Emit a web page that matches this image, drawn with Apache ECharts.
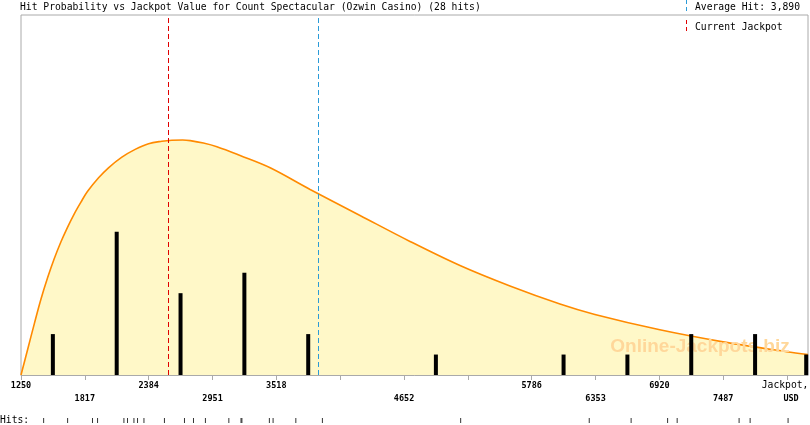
<!DOCTYPE html>
<html>
<head>
<meta charset="utf-8">
<title>Hit Probability vs Jackpot Value</title>
<script src="https://cdn.jsdelivr.net/npm/echarts@6/dist/echarts.min.js"></script>
<style>
  html, body { margin: 0; padding: 0; background: #fff; }
  #chart { width: 810px; height: 425px; }
</style>
</head>
<body>
<div id="chart"></div>
<script>
// probability curve (x = jackpot USD, y = in "hits" units)
const curveX = [1250, 1309, 1368, 1427, 1486, 1545, 1604, 1663, 1722, 1781, 1840, 1939, 2027,
    2146, 2264, 2383, 2501, 2590, 2686, 2753, 2870, 2990, 3196, 3463, 3818, 4261, 4705, 5149, 5593,
    6037, 6347, 6924, 7486, 8049, 8240];
const curveY = [0, 1.25, 2.50, 3.70, 4.75, 5.68, 6.50, 7.22, 7.87, 8.44, 8.97, 9.64, 10.13,
    10.65, 11.03, 11.31, 11.43, 11.48, 11.49, 11.46, 11.34, 11.16, 10.73, 10.13, 9.07, 7.80, 6.53, 5.35, 4.35,
    3.47, 2.96, 2.21, 1.62, 1.14, 1.00];

// histogram bars (bin position, hits in bin)
const binX = [1533, 2100, 2667, 3234, 3801, 4935, 6069, 6636, 7203, 7770, 8224];
const binHits = [2, 7, 4, 5, 2, 1, 1, 1, 2, 2, 1];

// single hits shown in the bottom strip
const hitValues = [1451, 1664, 1885, 1930, 2164, 2196, 2253, 2285, 2342, 2524, 2702, 2782,
    2888, 3096, 3204, 3212, 3456, 3489, 3691, 3927, 5155, 6297, 6669, 6993, 7078, 7628, 7726, 8063];

const tickValues = [1250, 1817, 2384, 2951, 3518, 4085, 4652, 5219, 5786, 6353, 6920, 7487, 8054];
const tickLabels = ['1250', '\n1817', '2384', '\n2951', '3518', '', '\n4652', '', '5786',
    '\n6353', '6920', '\n7487', '{j|Jackpot,}\n{u|USD}'];

const averageHit = 3890;
const currentJackpot = 2560;
const xMin = 1250, xMax = 8240;

const mono = '"DejaVu Sans Mono", "Liberation Mono", monospace';

var myChart = echarts.init(document.getElementById('chart'));

var option = {
    animation: false,
    title: {
        text: 'Hit Probability vs Jackpot Value for Count Spectacular (Ozwin Casino) (' + hitValues.length + ' hits)',
        left: 20,
        top: 2,
        padding: 0,
        textStyle: { fontFamily: mono, fontSize: 9.7, fontWeight: 'normal', color: '#000' }
    },
    grid: [
        { left: 21, right: 2, top: 15, bottom: 50, outerBoundsMode: 'none', show: true, borderColor: '#aaa', borderWidth: 1, backgroundColor: 'transparent' },
        { left: 21, right: 2, top: 418, height: 5, outerBoundsMode: 'none' }
    ],
    xAxis: [{
        type: 'value',
        gridIndex: 0,
        min: xMin,
        max: xMax,
        splitLine: { show: false },
        axisLine: { lineStyle: { color: '#aaa' } },
        axisTick: { show: true, length: 5, lineStyle: { color: '#aaa' }, customValues: tickValues },
        axisLabel: {
            customValues: tickValues,
            margin: 4.5,
            fontFamily: mono,
            fontSize: 8.5,
            fontWeight: 'bold',
            color: '#000',
            lineHeight: 12.7,
            formatter: function (v) {
                var i = tickValues.indexOf(v);
                return i < 0 ? '' : tickLabels[i];
            },
            rich: {
                j: { fontFamily: mono, fontSize: 9.7, fontWeight: 'normal', color: '#000', lineHeight: 12.7, padding: [0, 4, 0, 0] },
                u: { fontFamily: mono, fontSize: 8.5, fontWeight: 'bold', color: '#000', lineHeight: 12.7, padding: [0, 0, 0, 8] }
            }
        }
    }, {
        type: 'value',
        gridIndex: 1,
        min: xMin,
        max: xMax,
        show: false
    }],
    yAxis: [
        { type: 'value', gridIndex: 0, min: 0, max: 17.6, show: false },
        { type: 'value', gridIndex: 1, min: 0, max: 1, show: false }
    ],
    graphic: [
        {
            type: 'text', z: 2,
            x: 700, y: 347,
            style: {
                text: 'Online-Jackpots.biz', fill: '#ffd79a',
                font: 'bold 19px "Liberation Sans", Arial, sans-serif',
                textAlign: 'center', textVerticalAlign: 'middle'
            }
        },
        {
            type: 'line', z: 5,
            shape: { x1: 686.5, y1: 0, x2: 686.5, y2: 12 },
            style: { stroke: '#2b9bd8', lineWidth: 1, lineDash: [4, 3] }
        },
        {
            type: 'text', z: 5, x: 695, y: 7,
            style: {
                text: 'Average Hit: ' + averageHit.toLocaleString('en-US'),
                font: '9.7px ' + mono, fill: '#000', textVerticalAlign: 'middle'
            }
        },
        {
            type: 'line', z: 5,
            shape: { x1: 686.5, y1: 20, x2: 686.5, y2: 33 },
            style: { stroke: '#e00000', lineWidth: 1, lineDash: [4, 3] }
        },
        {
            type: 'text', z: 5, x: 695, y: 27,
            style: {
                text: 'Current Jackpot',
                font: '9.7px ' + mono, fill: '#000', textVerticalAlign: 'middle'
            }
        },
        {
            type: 'text', z: 5, x: 0, y: 420,
            style: { text: 'Hits:', font: '9.7px ' + mono, fill: '#000', textVerticalAlign: 'middle' }
        }
    ],
    series: [{
        name: 'Probability',
        type: 'line',
        z: 1,
        xAxisIndex: 0,
        yAxisIndex: 0,
        smooth: 0.35,
        showSymbol: false,
        lineStyle: { color: '#ff8a00', width: 1.6 },
        areaStyle: { color: '#fff8c8', opacity: 1 },
        data: curveX.map((x, i) => [x, curveY[i]])
    }, {
        name: 'Hits per bin',
        type: 'bar',
        z: 3,
        xAxisIndex: 0,
        yAxisIndex: 0,
        barWidth: 4,
        itemStyle: { color: '#000' },
        data: binX.map((x, i) => [x, binHits[i]]),
        markLine: {
            silent: true,
            symbol: 'none',
            label: { show: false },
            animation: false,
            data: [
                { xAxis: currentJackpot, lineStyle: { color: '#e00000', type: [5, 3], width: 1 } },
                { xAxis: averageHit, lineStyle: { color: '#2b9bd8', type: [5, 3], width: 1 } }
            ]
        }
    }, {
        name: 'Hits',
        type: 'scatter',
        xAxisIndex: 1,
        yAxisIndex: 1,
        symbol: 'rect',
        symbolSize: [1, 5],
        itemStyle: { color: '#000' },
        data: hitValues.map(v => [v, 0.5])
    }]
};

myChart.setOption(option);
</script>
</body>
</html>
